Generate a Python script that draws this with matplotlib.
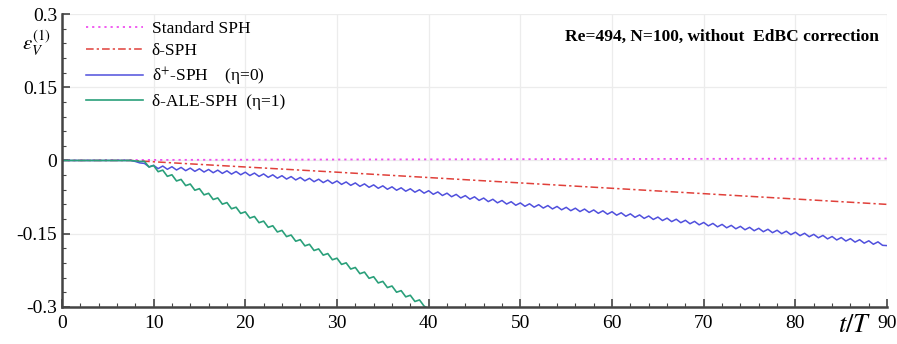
import matplotlib.pyplot as plt
from matplotlib.ticker import MultipleLocator

plt.rcParams['font.family'] = ['Liberation Serif', 'DejaVu Serif']
plt.rcParams['mathtext.fontset'] = 'stix'

# Standard SPH
t_std = [0, 7, 30, 60, 90]
e_std = [0, 0.001, 0.002, 0.003, 0.004]

# delta-SPH
t_dsph = [0, 7.5, 30, 60, 90]
e_dsph = [0, 0, -0.024, -0.057, -0.090]

# delta+-SPH (eta=0), t = 0, 7.5, 8, 8.5, ... 90
t_plus = [0] + [7.5 + 0.5 * i for i in range(166)]
e_plus = [0,
    0, -0.002, -0.005, -0.006, -0.013, -0.010,
    -0.0167, -0.0114, -0.0181, -0.0128, -0.0195, -0.0142, -0.0209, -0.0156, -0.0223, -0.017,
    -0.0237, -0.0184, -0.0251, -0.0198, -0.0265, -0.0212, -0.0279, -0.0226, -0.0293, -0.024,
    -0.0309, -0.0258, -0.0327, -0.0276, -0.0345, -0.0294, -0.0363, -0.0312, -0.0381, -0.033,
    -0.0399, -0.0348, -0.0417, -0.0366, -0.0435, -0.0384, -0.0453, -0.0402, -0.0471, -0.042,
    -0.049, -0.044, -0.051, -0.046, -0.053, -0.048, -0.055, -0.050, -0.057, -0.052,
    -0.059, -0.054, -0.061, -0.056, -0.063, -0.058, -0.065, -0.060, -0.067, -0.062,
    -0.0693, -0.0645, -0.0718, -0.067, -0.0743, -0.0695, -0.0768, -0.072, -0.0793, -0.0745,
    -0.0818, -0.077, -0.0843, -0.0795, -0.0868, -0.082, -0.0893, -0.0845, -0.0918, -0.087,
    -0.0939, -0.0888, -0.0957, -0.0906, -0.0975, -0.0924, -0.0993, -0.0942, -0.1011, -0.096,
    -0.1029, -0.0978, -0.1047, -0.0996, -0.1065, -0.1014, -0.1083, -0.1032, -0.1101, -0.105,
    -0.1121, -0.1072, -0.1143, -0.1094, -0.1165, -0.1116, -0.1187, -0.1138, -0.1209, -0.116,
    -0.1231, -0.1182, -0.1253, -0.1204, -0.1275, -0.1226, -0.1297, -0.1248, -0.1319, -0.127,
    -0.134, -0.129, -0.136, -0.131, -0.138, -0.133, -0.140, -0.135, -0.142, -0.137,
    -0.144, -0.139, -0.146, -0.141, -0.148, -0.143, -0.150, -0.145, -0.152, -0.147,
    -0.1541, -0.1492, -0.1563, -0.1514, -0.1585, -0.1536, -0.1607, -0.1558, -0.1629, -0.158,
    -0.1651, -0.1602, -0.1673, -0.1624, -0.1695, -0.1646, -0.1717, -0.1668, -0.1739, -0.1745]

# delta-ALE-SPH (eta=1), t = 0, 7.5, 8, 8.5, ... 40
t_ale = [0] + [7.5 + 0.5 * i for i in range(66)]
e_ale = [0,
    0, -0.001, -0.002, -0.0018, -0.0135, -0.0103,
    -0.023, -0.0198, -0.0325, -0.0293, -0.042, -0.0388, -0.0515, -0.0483, -0.061, -0.0578,
    -0.0705, -0.0673, -0.080, -0.0768, -0.0895, -0.0863, -0.099, -0.0958, -0.1085, -0.1053,
    -0.118, -0.1148, -0.1275, -0.1243, -0.137, -0.1338, -0.1465, -0.1433, -0.156, -0.1528,
    -0.1655, -0.1623, -0.175, -0.1718, -0.1845, -0.1813, -0.194, -0.1908, -0.2035, -0.2003,
    -0.213, -0.2098, -0.2225, -0.2193, -0.232, -0.2288, -0.2415, -0.2383, -0.251, -0.2478,
    -0.2605, -0.2573, -0.270, -0.2668, -0.2795, -0.2763, -0.289, -0.2858, -0.2985, -0.304]

labels = ['Standard SPH', r'δ-SPH', r'δ$^{+}$-SPH    (η=0)', r'δ-ALE-SPH  (η=1)']

fig = plt.figure(figsize=(8.97, 3.44), dpi=100)
ax = fig.add_axes([0.069, 0.108, 0.92, 0.851])

ax.plot(t_std, e_std, color='#f050f0', ls=(0, (1.2, 2.2)), lw=1.3, label=labels[0])
ax.plot(t_dsph, e_dsph, color='#e0403a', ls=(0, (5, 2, 1.5, 2)), lw=1.1, label=labels[1])
ax.plot(t_plus, e_plus, color='#5050dd', lw=1.1, label=labels[2])
ax.plot(t_ale, e_ale, color='#2aa07a', lw=1.2, label=labels[3])

ax.set_xlim(0, 90)
ax.set_ylim(-0.3, 0.3)
ax.set_xticks([0, 10, 20, 30, 40, 50, 60, 70, 80, 90])
ax.set_yticks([-0.3, -0.15, 0, 0.15, 0.3])
ax.set_yticklabels(['-0.3', '-0.15', '0', '0.15', '0.3'])
ax.xaxis.set_minor_locator(MultipleLocator(2))
ax.yaxis.set_minor_locator(MultipleLocator(0.03))
ax.tick_params(which='both', direction='in', labelsize=14, color='#444444')
ax.tick_params(which='major', length=6, width=1.2)
ax.tick_params(which='minor', length=3, width=0.8)
ax.tick_params(axis='x', pad=6)
ax.grid(True, which='major', color='#ececec', lw=0.9)
ax.set_axisbelow(True)

for s in ['top', 'right']:
    ax.spines[s].set_visible(False)
for s in ['left', 'bottom']:
    ax.spines[s].set_linewidth(1.8)
    ax.spines[s].set_color('#444444')

ax.legend(loc='upper left', bbox_to_anchor=(0.01, 1.03), frameon=False, fontsize=12.5,
          handlelength=3.3, handletextpad=0.5, labelspacing=0.35)

ax.text(0.99, 0.95, 'Re=494, N=100, without  EdBC correction', transform=ax.transAxes,
        ha='right', va='top', fontsize=12.5, fontweight='bold')
fig.text(0.025, 0.875, r'$\epsilon_V^{(1)}$', fontsize=15, ha='left', va='center')
fig.text(0.953, 0.052, r'$t/T$', fontsize=19, ha='center', va='center')

fig.savefig('out.png', dpi=100)
